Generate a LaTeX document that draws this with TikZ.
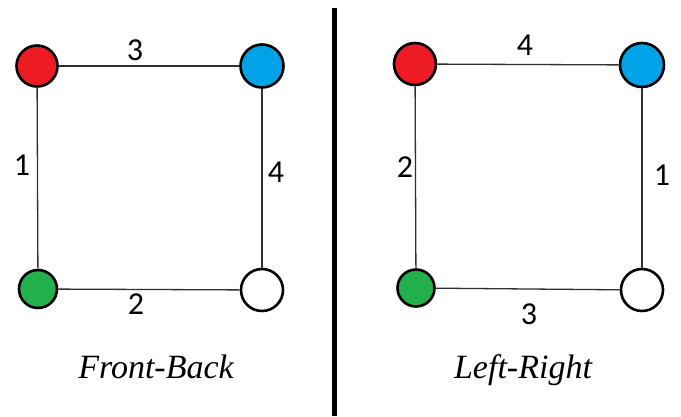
\documentclass[tikz,border=0pt]{standalone}
\usepackage{fontspec}
\setmainfont{Liberation Serif}
\newfontfamily\numfont{Carlito}
\usetikzlibrary{positioning}
\definecolor{DotRed}{HTML}{ED1C24}
\definecolor{DotBlue}{HTML}{00A2E8}
\definecolor{DotGreen}{HTML}{22B14C}
\definecolor{EdgeGray}{HTML}{303030}
\begin{document}
\begin{tikzpicture}[x=1pt,y=-1pt,dot/.style={circle,draw=black,line width=2.6pt,inner sep=0pt,minimum size=#1},edge/.style={draw=EdgeGray,line width=1.3pt},num/.style={font=\numfont\fontsize{32}{32}\selectfont,inner sep=0pt},caption/.style={font=\fontsize{34}{34}\selectfont\itshape,inner sep=0pt,anchor=base}]
\useasboundingbox[fill=white] (0,0) rectangle (681,416);
% Front-Back
\node[dot=41pt,fill=DotRed](fr) at (37,66){};\node[dot=43pt,fill=DotBlue](fb) at (262,66){};\node[dot=38pt,fill=DotGreen](fg) at (38,289){};\node[dot=42pt,fill=white](fw) at (262,290){};
\draw[edge](fr)--(fb);\draw[edge](fr)--(fg);\draw[edge](fg)--(fw);\draw[edge](fb)--(fw);
\node[num](fl3) at (135,50){3};\node[num](fl1) at (22,165){1};\node[num](fl4) at (276,172){4};\node[num](fl2) at (136,304){2};
\node[caption](fcap) at (156,378){Front-Back};
% divider
\coordinate (dtop) at (334,8);\coordinate (dbot) at (334,416);
\draw[line width=5pt](dtop)--(dbot);
% Left-Right
\node[dot=42pt,fill=DotRed](lr) at (415,64){};\node[dot=44pt,fill=DotBlue](lb) at (642,65){};\node[dot=37pt,fill=DotGreen](lg) at (416,288){};\node[dot=42pt,fill=white](lw) at (642,290){};
\draw[edge](lr)--(lb);\draw[edge](lr)--(lg);\draw[edge](lg)--(lw);\draw[edge](lb)--(lw);
\node[num](ll4) at (525,45){4};\node[num](ll2) at (405,167){2};\node[num](ll1) at (662,175){1};\node[num](ll3) at (529,314){3};
\node[caption](lcap) at (523,378){Left-Right};
\end{tikzpicture}
\end{document}
